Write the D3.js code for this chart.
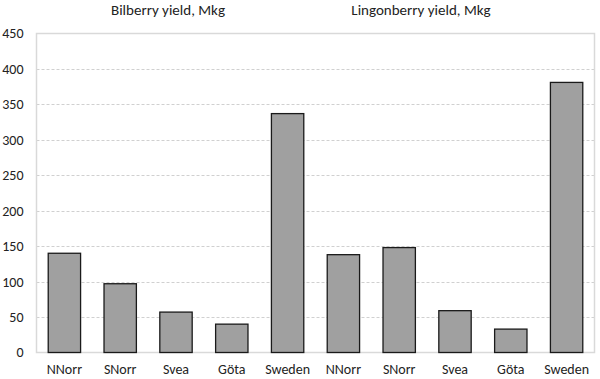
<!DOCTYPE html>
<html><head><meta charset="utf-8">
<script src="https://cdn.jsdelivr.net/npm/d3@7"></script>
<style>body{margin:0;background:#fff;} svg{display:block;font-family:Carlito,Lato,"Open Sans",sans-serif;}</style>
</head><body>
<svg id="c" width="600" height="379"></svg>
<script>
const categories = ["NNorr","SNorr","Svea","Göta","Sweden","NNorr","SNorr","Svea","Göta","Sweden"];
const values = [140, 97, 57, 40, 337, 138, 148, 59, 33, 381];
const groupTitles = ["Bilberry yield, Mkg","Lingonberry yield, Mkg"];
const yTicks = [0,50,100,150,200,250,300,350,400,450];

const svg = d3.select("#c");
const m = {l:36.5, r:594.5, t:33.5, b:352.5};
const x = d3.scaleBand().domain(d3.range(categories.length)).range([m.l, m.r]).paddingInner(0.42).paddingOuter(0.21);
const y = d3.scaleLinear().domain([0,450]).range([m.b, m.t]);

// grid
svg.append("g").selectAll("line").data(yTicks.filter(d=>d>0&&d<450)).join("line")
  .attr("x1", m.l).attr("x2", m.r).attr("y1", d=>Math.round(y(d))+0.5).attr("y2", d=>Math.round(y(d))+0.5)
  .attr("stroke","#d0d0d0").attr("stroke-dasharray","3,2").attr("stroke-width",1);

// frame
svg.append("rect").attr("x", m.l).attr("y", m.t).attr("width", m.r-m.l).attr("height", m.b-m.t)
  .attr("fill","none").attr("stroke","#d9d9d9").attr("stroke-width",1.5);

// bars
svg.append("g").selectAll("rect").data(values).join("rect")
  .attr("x", (d,i)=>x(i)).attr("width", x.bandwidth())
  .attr("y", d=>y(d)).attr("height", d=>y(0)-y(d))
  .attr("fill","#a0a0a0").attr("stroke","#1a1a1a").attr("stroke-width",1.3);

// y axis labels
const yAxis = d3.axisLeft(y).tickValues(yTicks).tickSize(0).tickPadding(13);
const ga = svg.append("g").attr("transform",`translate(${m.l},0)`).call(yAxis);
ga.select(".domain").remove();
ga.selectAll("text").attr("font-size",14).attr("fill","#222").style("font-family","Carlito,Lato,'Open Sans',sans-serif");

// x axis labels
const xAxis = d3.axisBottom(x).tickFormat(i=>categories[i]).tickSize(0).tickPadding(12);
const gx = svg.append("g").attr("transform",`translate(0,${m.b})`).call(xAxis);
gx.select(".domain").remove();
gx.selectAll("text").attr("font-size",14).attr("fill","#222").style("font-family","Carlito,Lato,'Open Sans',sans-serif");

// group titles (positioned as in the reference, slightly left of each group's centre)
const titleX = [x(2) + x.bandwidth()/2 - 8, x(7) + x.bandwidth()/2 - 34];
svg.append("g").selectAll("text").data(groupTitles).join("text")
  .attr("x",(d,i)=>titleX[i]).attr("y",15).attr("text-anchor","middle")
  .attr("font-size",15).attr("fill","#222").text(d=>d);
</script>
</body></html>
